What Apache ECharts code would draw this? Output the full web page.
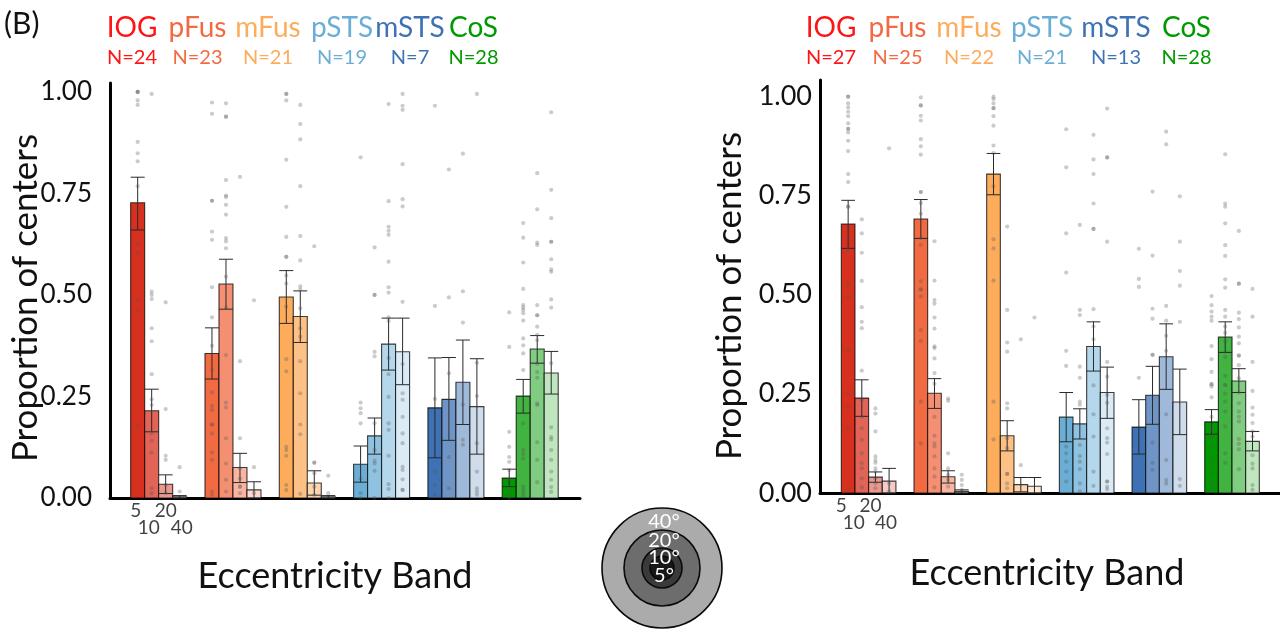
<!DOCTYPE html>
<html><head><meta charset="utf-8">
<script src="https://cdn.jsdelivr.net/npm/echarts@6/dist/echarts.min.js"></script>
<style>html,body{margin:0;padding:0;background:#fff}#c{width:1280px;height:629px}</style>
</head><body><div id="c"></div>
<script>
// ---------- data ----------
const rois = ['IOG', 'pFus', 'mFus', 'pSTS', 'mSTS', 'CoS'];
const bands = ['5', '10', '20', '40'];
const nLeft = [24, 23, 21, 19, 7, 28];
const nRight = [27, 25, 22, 21, 13, 28];
const barColors = ['#d7301f', '#f26a42', '#fdac5c', '#6aaed6', '#3f72b4', '#009900'];
const titleColors = ['#ff1414', '#f26a42', '#fdac5c', '#6aaed6', '#3f72b4', '#009900'];
const bandAlpha = [1, 0.75, 0.5, 0.25];
const yTicks = [0, 0.25, 0.5, 0.75, 1.0];

// left panel: mean and SE bounds per ROI (rows) and band (cols)
const meanLeft = [[0.727, 0.215, 0.034, 0.003], [0.356, 0.527, 0.075, 0.02], [0.495, 0.447, 0.037, 0.003],
                  [0.083, 0.153, 0.379, 0.36], [0.222, 0.243, 0.285, 0.225], [0.049, 0.251, 0.367, 0.308]];
const lowLeft  = [[0.66, 0.163, 0.011, 0.0], [0.293, 0.465, 0.038, 0.0], [0.43, 0.383, 0.007, 0.0],
                  [0.039, 0.108, 0.315, 0.279], [0.099, 0.142, 0.181, 0.108], [0.028, 0.209, 0.332, 0.256]];
const highLeft = [[0.79, 0.268, 0.057, 0.006], [0.419, 0.588, 0.11, 0.04], [0.56, 0.51, 0.067, 0.006],
                  [0.128, 0.197, 0.443, 0.443], [0.345, 0.346, 0.389, 0.343], [0.071, 0.292, 0.4, 0.361]];

// right panel
const meanRight = [[0.677, 0.239, 0.04, 0.03], [0.69, 0.251, 0.041, 0.004], [0.803, 0.144, 0.021, 0.017],
                   [0.191, 0.174, 0.369, 0.253], [0.166, 0.246, 0.343, 0.229], [0.179, 0.393, 0.282, 0.13]];
const lowRight  = [[0.616, 0.193, 0.027, 0.0], [0.641, 0.213, 0.025, 0.0], [0.751, 0.106, 0.003, 0.0],
                   [0.129, 0.136, 0.307, 0.188], [0.098, 0.173, 0.261, 0.147], [0.148, 0.354, 0.253, 0.106]];
const highRight = [[0.737, 0.285, 0.053, 0.062], [0.739, 0.288, 0.056, 0.008], [0.855, 0.182, 0.039, 0.039],
                   [0.253, 0.212, 0.431, 0.317], [0.235, 0.319, 0.426, 0.312], [0.21, 0.431, 0.313, 0.155]];

// individual subjects, left panel (per ROI: bands 5,10,20,40)
const ptsL_IOG = [[1.0, 1.0, 1.0, 0.979, 0.968, 0.877, 0.849, 0.829, 0.768, 0.709, 0.626, 0.603, 0.487, 0.46, 0.176],
  [0.995, 0.508, 0.5, 0.49, 0.418, 0.386, 0.305, 0.243, 0.229, 0.159, 0.141, 0.112, 0.024, 0.012],
  [0.482, 0.219, 0.104, 0.094, 0.032, 0.012], [0.076, 0.016]];
const ptsL_pFus = [[0.974, 0.946, 0.732, 0.732, 0.656, 0.636, 0.519, 0.445, 0.375, 0.315, 0.26, 0.227, 0.217, 0.181, 0.181, 0.159, 0.112, 0.094, 0.016, 0.008],
  [0.972, 0.939, 0.939, 0.783, 0.745, 0.741, 0.722, 0.698, 0.64, 0.632, 0.615, 0.545, 0.468, 0.352, 0.235, 0.223, 0.147, 0.085, 0.045, 0.016],
  [0.791, 0.337, 0.147, 0.073, 0.048, 0.028, 0.028, 0.012], [0.487, 0.076, 0.012]];
const ptsL_mFus = [[0.995, 0.995, 0.979, 0.833, 0.717, 0.643, 0.594, 0.594, 0.548, 0.528, 0.471, 0.342, 0.312, 0.126, 0.118, 0.104, 0.032, 0.02],
  [0.968, 0.921, 0.883, 0.768, 0.645, 0.585, 0.521, 0.513, 0.467, 0.418, 0.397, 0.337, 0.258, 0.181, 0.157, 0.01],
  [0.62, 0.087, 0.087, 0.061, 0.028, 0.008], [0.055, 0.012]];
const ptsL_pSTS = [[0.839, 0.235, 0.221, 0.209, 0.184, 0.048, 0.012, 0.0],
  [0.617, 0.5, 0.5, 0.36, 0.349, 0.184, 0.118, 0.092, 0.085, 0.067, 0.0],
  [0.97, 0.731, 0.668, 0.658, 0.648, 0.582, 0.519, 0.506, 0.445, 0.436, 0.345, 0.305, 0.249, 0.184, 0.168, 0.104, 0.034, 0.022, 0.0],
  [0.995, 0.966, 0.956, 0.822, 0.736, 0.718, 0.483, 0.33, 0.258, 0.242, 0.2, 0.159, 0.135, 0.077, 0.069, 0.046, 0.02, 0.02]];
const ptsL_mSTS = [[0.966, 0.473, 0.244, 0.065, 0.032, 0.008], [0.809, 0.494, 0.307, 0.101, 0.024],
  [0.848, 0.509, 0.432, 0.23, 0.143, 0.131], [0.995, 0.333, 0.251, 0.135, 0.065, 0.024, 0.016, 0.008]];
const ptsL_CoS = [[0.457, 0.372, 0.163, 0.126, 0.101, 0.089, 0.069, 0.045, 0.024, 0.008, 0.0],
  [0.677, 0.641, 0.58, 0.515, 0.475, 0.469, 0.463, 0.455, 0.437, 0.393, 0.376, 0.356, 0.315, 0.184, 0.118, 0.108, 0.097, 0.028, 0.02, 0.012, 0.004],
  [0.8, 0.711, 0.629, 0.623, 0.475, 0.45, 0.45, 0.422, 0.402, 0.389, 0.33, 0.31, 0.296, 0.233, 0.229, 0.137, 0.094, 0.039],
  [0.95, 0.759, 0.689, 0.631, 0.631, 0.588, 0.563, 0.557, 0.489, 0.469, 0.332, 0.174, 0.15, 0.144, 0.118, 0.094, 0.065, 0.045, 0.027, 0.015]];

// individual subjects, right panel
const ptsR_IOG = [[0.998, 0.998, 0.981, 0.971, 0.96, 0.949, 0.931, 0.917, 0.917, 0.908, 0.887, 0.861, 0.803, 0.783, 0.721, 0.721, 0.639, 0.612, 0.524, 0.493, 0.36, 0.25, 0.218, 0.165, 0.012],
  [0.689, 0.654, 0.605, 0.534, 0.468, 0.431, 0.415, 0.308, 0.234, 0.192, 0.163, 0.134, 0.1, 0.075, 0.062, 0.037, 0.014],
  [0.213, 0.2, 0.155, 0.092, 0.083, 0.076, 0.062, 0.054, 0.037, 0.024, 0.012], [0.868, 0.024, 0.004]];
const ptsR_pFus = [[0.996, 0.976, 0.976, 0.95, 0.938, 0.891, 0.873, 0.852, 0.758, 0.758, 0.73, 0.703, 0.642, 0.625, 0.533, 0.513, 0.513, 0.495, 0.41, 0.383, 0.23, 0.125],
  [0.634, 0.535, 0.486, 0.477, 0.442, 0.414, 0.369, 0.365, 0.339, 0.302, 0.275, 0.192, 0.144, 0.125, 0.117, 0.092, 0.062, 0.041, 0.014],
  [0.238, 0.232, 0.1, 0.062, 0.046, 0.033, 0.016], [0.046, 0.033, 0.02, 0.008]];
const ptsR_mFus = [[0.998, 0.992, 0.981, 0.969, 0.969, 0.949, 0.925, 0.875, 0.856, 0.772, 0.639, 0.616, 0.535, 0.23, 0.135],
  [0.671, 0.461, 0.379, 0.356, 0.226, 0.213, 0.138, 0.113, 0.048, 0.048, 0.024, 0.012], [0.387, 0.07], [0.442]];
const ptsR_pSTS = [[0.916, 0.82, 0.654, 0.555, 0.358, 0.32, 0.117, 0.1, 0.079, 0.054, 0.029],
  [0.675, 0.461, 0.448, 0.318, 0.29, 0.23, 0.222, 0.121, 0.093, 0.079, 0.06, 0.024, 0.004],
  [0.902, 0.84, 0.803, 0.729, 0.665, 0.665, 0.463, 0.419, 0.387, 0.271, 0.198, 0.142, 0.054, 0.018],
  [0.968, 0.845, 0.845, 0.633, 0.33, 0.293, 0.247, 0.227, 0.163, 0.138, 0.127, 0.098, 0.029, 0.029, 0.016, 0.009]];
const ptsR_mSTS = [[0.615, 0.539, 0.519, 0.29], [0.759, 0.598, 0.464, 0.439, 0.348, 0.348, 0.127, 0.076, 0.058],
  [0.91, 0.878, 0.471, 0.434, 0.396, 0.358, 0.198, 0.083, 0.033, 0.024], [0.747, 0.633, 0.559, 0.522, 0.431, 0.035, 0.018]];
const ptsR_CoS = [[0.496, 0.473, 0.457, 0.444, 0.434, 0.37, 0.337, 0.305, 0.274, 0.274, 0.268, 0.241, 0.192, 0.167, 0.159, 0.14, 0.14, 0.117, 0.088, 0.071, 0.05, 0.029, 0.016, 0.006],
  [0.853, 0.729, 0.721, 0.679, 0.624, 0.597, 0.538, 0.517, 0.461, 0.444, 0.419, 0.403, 0.382, 0.355, 0.342, 0.295, 0.272, 0.272, 0.25, 0.23, 0.205, 0.167, 0.1, 0.076],
  [0.66, 0.527, 0.527, 0.454, 0.438, 0.417, 0.394, 0.377, 0.346, 0.346, 0.322, 0.289, 0.253, 0.226, 0.205, 0.192, 0.18, 0.136, 0.124, 0.11, 0.06],
  [0.514, 0.444, 0.33, 0.257, 0.215, 0.197, 0.176, 0.155, 0.142, 0.095, 0.074, 0.062, 0.02, 0.008]];

const ptsLeft = [ptsL_IOG, ptsL_pFus, ptsL_mFus, ptsL_pSTS, ptsL_mSTS, ptsL_CoS];
const ptsRight = [ptsR_IOG, ptsR_pFus, ptsR_mFus, ptsR_pSTS, ptsR_mSTS, ptsR_CoS];

// ---------- helpers ----------
const FONT = 'Lato, "Noto Sans", sans-serif';
function blend(hex, a) {
  const r = parseInt(hex.slice(1, 3), 16), g = parseInt(hex.slice(3, 5), 16), b = parseInt(hex.slice(5, 7), 16);
  const m = c => Math.round(c * a + 255 * (1 - a));
  return 'rgb(' + m(r) + ',' + m(g) + ',' + m(b) + ')';
}
function panelSeries(idx, means, lows, highs, pts, bw, labDx) {
  const barData = [], dotData = [], labData = [];
  for (let g = 0; g < rois.length; g++) {
    for (let b = 0; b < bands.length; b++) {
      barData.push([g, b, means[g][b], lows[g][b], highs[g][b]]);
      const xc = g + (b - 1.5) * bw;
      pts[g][b].forEach(v => dotData.push([xc, v]));
    }
  }
  for (let b = 0; b < bands.length; b++) {
    labData.push({ value: [0 + (b - 1.5) * bw, 0, bands[b]],
                   label: { distance: b % 2 === 0 ? 3 : 20, offset: [labDx[b], 0] } });
  }
  return [
    {
      type: 'custom', xAxisIndex: idx, yAxisIndex: idx, data: barData, z: 2, clip: false,
      encode: { x: 0, y: 2 },
      renderItem: function (params, api) {
        const g = api.value(0), b = api.value(1), m = api.value(2), lo = api.value(3), hi = api.value(4);
        const xc = g + (b - 1.5) * bw;
        const p0 = api.coord([xc - bw / 2, 0]);
        const p1 = api.coord([xc + bw / 2, m]);
        const pl = api.coord([xc, lo]), ph = api.coord([xc, hi]);
        const w = p1[0] - p0[0];
        const hc = w / 2;
        const es = { stroke: '#2a2a2a', lineWidth: 1 };
        return {
          type: 'group', children: [
            { type: 'rect', shape: { x: p0[0], y: p1[1], width: w, height: p0[1] - p1[1] },
              style: { fill: blend(barColors[g], bandAlpha[b]), stroke: 'rgba(0,0,0,0.75)', lineWidth: 1.1 } },
            { type: 'line', z2: 5, shape: { x1: pl[0], y1: pl[1], x2: ph[0], y2: ph[1] }, style: es },
            { type: 'line', z2: 5, shape: { x1: pl[0] - hc, y1: pl[1], x2: pl[0] + hc, y2: pl[1] }, style: es },
            { type: 'line', z2: 5, shape: { x1: ph[0] - hc, y1: ph[1], x2: ph[0] + hc, y2: ph[1] }, style: es }
          ]
        };
      }
    },
    {
      type: 'scatter', xAxisIndex: idx, yAxisIndex: idx, data: dotData, z: 3,
      symbolSize: 4.2, itemStyle: { color: 'rgba(85,85,85,0.38)' }, silent: true
    },
    {
      type: 'scatter', xAxisIndex: idx, yAxisIndex: idx, data: labData, z: 4, symbolSize: 1,
      itemStyle: { color: 'rgba(0,0,0,0)' }, silent: true,
      label: { show: true, position: 'bottom', formatter: p => p.value[2],
               color: '#111', fontSize: 19, fontFamily: FONT }
    }
  ];
}

function tickFmt(v) {
  return yTicks.some(t => Math.abs(t - v) < 1e-6) ? v.toFixed(2) : '';
}

const BW_L = 0.1884, BW_R = 0.1878;

const graphic = [];
function txt(x, y, text, color, size, align, rot) {
  return { type: 'text', x: x, y: y, rotation: rot || 0, style: { text: text, fill: color, font: size + 'px ' + FONT,
    textAlign: align || 'center', align: align || 'center', textVerticalAlign: 'middle', verticalAlign: 'middle' } };
}
// panel label
graphic.push(txt(4, 24, '(B)', '#111', 30, 'left'));
// ROI titles
function addTitles(xs, ns) {
  rois.forEach((r, i) => {
    graphic.push(txt(xs[i], 28, r, titleColors[i], 28));
    graphic.push(txt(xs[i], 58, 'N=' + ns[i], titleColors[i], 20));
  });
}
addTitles([132, 197.5, 268, 342, 410, 473.5], nLeft);
addTitles([831, 897.5, 969, 1042, 1116, 1186.5], nRight);
// axis titles
graphic.push(txt(335, 576, 'Eccentricity Band', '#111', 36));
graphic.push(txt(1047, 573, 'Eccentricity Band', '#111', 36));
graphic.push(txt(26, 298, 'Proportion of centers', '#111', 35, 'center', Math.PI / 2));
graphic.push(txt(730, 296, 'Proportion of centers', '#111', 35, 'center', Math.PI / 2));
// eccentricity legend (concentric circles)
const ringR = [60, 38, 20, 12];
const ringC = ['#ababab', '#6d6d6d', '#3a3a3a', '#161616'];
ringR.forEach((r, i) => {
  graphic.push({ type: 'circle', shape: { cx: 662, cy: 568, r: r }, style: { fill: ringC[i], stroke: '#0a0a0a', lineWidth: 1.6 } });
});
const ringLab = [['40°', 522], ['20°', 541], ['10°', 558], ['5°', 576]];
ringLab.forEach(([t, y]) => graphic.push(txt(664, y, t, '#fff', 20)));

const axisCommonX = {
  type: 'value', axisLabel: { show: false }, axisTick: { show: false }, splitLine: { show: false },
  axisLine: { show: true, onZero: false, lineStyle: { color: '#000', width: 3 } }
};
function yAxisCfg(idx, max, margin, fs) {
  return {
    type: 'value', gridIndex: idx, min: 0, max: max, interval: 0.25,
    axisLine: { show: true, onZero: false, lineStyle: { color: '#000', width: 3 } },
    axisTick: { show: false }, splitLine: { show: false },
    axisLabel: { formatter: tickFmt, fontSize: fs, fontFamily: FONT, color: '#111', margin: margin }
  };
}

const option = {
  backgroundColor: '#fff',
  animation: false,
  grid: [
    { left: 110, width: 470, top: 83, bottom: 131 },
    { left: 820, width: 460, top: 80, bottom: 136 }
  ],
  xAxis: [
    Object.assign({ gridIndex: 0, min: -0.655, max: 5.67 }, axisCommonX),
    Object.assign({ gridIndex: 1, min: -0.669, max: 5.66 }, axisCommonX)
  ],
  yAxis: [yAxisCfg(0, 1.022, 18, 26), yAxisCfg(1, 1.04, 8, 27)],
  graphic: graphic,
  series: [].concat(
    panelSeries(0, meanLeft, lowLeft, highLeft, ptsLeft, BW_L, [-2, -3, 0, 2]),
    panelSeries(1, meanRight, lowRight, highRight, ptsRight, BW_R, [-7, -8, -5, -3])
  )
};

const chart = echarts.init(document.getElementById('c'), null, { renderer: 'canvas' });
chart.setOption(option);
</script>
</body></html>
